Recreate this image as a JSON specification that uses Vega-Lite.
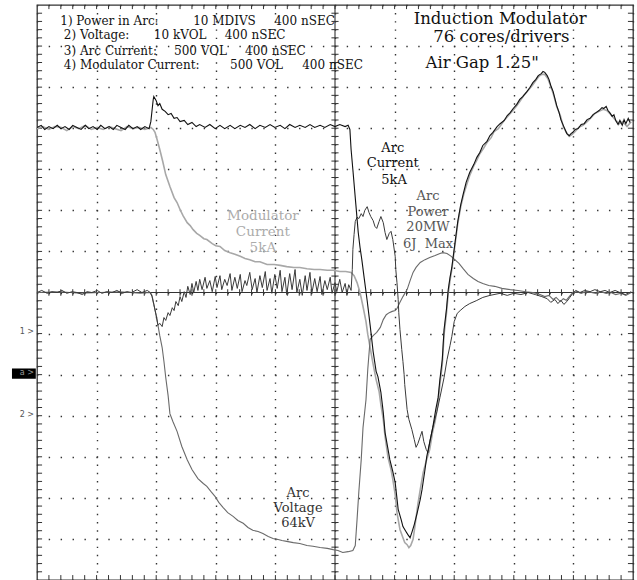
{
"$schema": "https://vega.github.io/schema/vega-lite/v6.json",
"width": 596, "height": 575,
"autosize": "none",
"padding": {"left": 37, "top": 5, "right": 4, "bottom": 0},
"background": "white",
"config": {
 "view": {"stroke": "#333", "strokeWidth": 1.3},
 "axis": {"domain": false, "ticks": false, "labels": false, "title": null},
 "axisX": {"grid": true, "tickCount": 10, "gridColor": "#333", "gridWidth": 1.4, "gridDash": [1.4, 6.81], "gridDashOffset": 0.7},
 "axisY": {"grid": true, "tickCount": 14, "gridColor": "#333", "gridWidth": 1.4, "gridDash": [1.4, 10.52], "gridDashOffset": 0.7}
},
"datasets": {
 "xt": [{"t":0.2},{"t":0.4},{"t":0.6},{"t":0.8},{"t":1},{"t":1.2},{"t":1.4},{"t":1.6},{"t":1.8},{"t":2},{"t":2.2},{"t":2.4},{"t":2.6},{"t":2.8},{"t":3},{"t":3.2},{"t":3.4},{"t":3.6},{"t":3.8},{"t":4},{"t":4.2},{"t":4.4},{"t":4.6},{"t":4.8},{"t":5},{"t":5.2},{"t":5.4},{"t":5.6},{"t":5.8},{"t":6},{"t":6.2},{"t":6.4},{"t":6.6},{"t":6.8},{"t":7},{"t":7.2},{"t":7.4},{"t":7.6},{"t":7.8},{"t":8},{"t":8.2},{"t":8.4},{"t":8.6},{"t":8.8},{"t":9},{"t":9.2},{"t":9.4},{"t":9.6},{"t":9.8}],
 "yt": [{"t":-6.8},{"t":-6.6},{"t":-6.4},{"t":-6.2},{"t":-6},{"t":-5.8},{"t":-5.6},{"t":-5.4},{"t":-5.2},{"t":-5},{"t":-4.8},{"t":-4.6},{"t":-4.4},{"t":-4.2},{"t":-4},{"t":-3.8},{"t":-3.6},{"t":-3.4},{"t":-3.2},{"t":-3},{"t":-2.8},{"t":-2.6},{"t":-2.4},{"t":-2.2},{"t":-2},{"t":-1.8},{"t":-1.6},{"t":-1.4},{"t":-1.2},{"t":-1},{"t":-0.8},{"t":-0.6},{"t":-0.4},{"t":-0.2},{"t":0},{"t":0.2},{"t":0.4},{"t":0.6},{"t":0.8},{"t":1},{"t":1.2},{"t":1.4},{"t":1.6},{"t":1.8},{"t":2},{"t":2.2},{"t":2.4},{"t":2.6},{"t":2.8},{"t":3},{"t":3.2},{"t":3.4},{"t":3.6},{"t":3.8},{"t":4},{"t":4.2},{"t":4.4},{"t":4.6},{"t":4.8},{"t":5},{"t":5.2},{"t":5.4},{"t":5.6},{"t":5.8},{"t":6},{"t":6.2},{"t":6.4},{"t":6.6},{"t":6.8}],
 "labels": [
  {"g":"leg","x":0.39,"y":6.62,"t":"1) Power in Arc:"},
  {"g":"leg","x":2.62,"y":6.62,"t":"10 MDIVS"},
  {"g":"leg","x":3.98,"y":6.62,"t":"400 nSEC"},
  {"g":"leg","x":0.45,"y":6.26,"t":"2) Voltage:"},
  {"g":"leg","x":1.96,"y":6.26,"t":"10 kVOL"},
  {"g":"leg","x":3.15,"y":6.26,"t":"400 nSEC"},
  {"g":"leg","x":0.45,"y":5.87,"t":"3) Arc Current:"},
  {"g":"leg","x":2.30,"y":5.87,"t":"500 VOL"},
  {"g":"leg","x":3.49,"y":5.87,"t":"400 nSEC"},
  {"g":"leg","x":0.45,"y":5.53,"t":"4) Modulator Current:"},
  {"g":"leg","x":3.24,"y":5.53,"t":"500 VOL"},
  {"g":"leg","x":4.45,"y":5.53,"t":"400 nSEC"},
  {"g":"title","x":7.77,"y":6.67,"t":"Induction Modulator"},
  {"g":"title","x":7.79,"y":6.23,"t":"76 cores/drivers"},
  {"g":"title","x":7.47,"y":5.60,"t":"Air Gap 1.25\""},
  {"g":"cur","x":5.97,"y":3.53,"t":"Arc"},
  {"g":"cur","x":5.97,"y":3.15,"t":"Current"},
  {"g":"cur","x":5.99,"y":2.75,"t":"5kA"},
  {"g":"pow","x":6.56,"y":2.34,"t":"Arc"},
  {"g":"pow","x":6.56,"y":1.96,"t":"Power"},
  {"g":"pow","x":6.56,"y":1.59,"t":"20MW"},
  {"g":"pow","x":6.56,"y":1.19,"t":"6J\u00a0\u00a0Max"},
  {"g":"mod","x":3.79,"y":1.86,"t":"Modulator"},
  {"g":"mod","x":3.79,"y":1.47,"t":"Current"},
  {"g":"mod","x":3.79,"y":1.09,"t":"5kA"},
  {"g":"vol","x":4.38,"y":-4.87,"t":"Arc"},
  {"g":"vol","x":4.38,"y":-5.24,"t":"Voltage"},
  {"g":"vol","x":4.38,"y":-5.61,"t":"64kV"},
  {"g":"mk","x":-0.05,"y":-0.97,"t":"1 >"},
  {"g":"mkb","x":-0.05,"y":-1.97,"t":"a >"},
  {"g":"mk","x":-0.05,"y":-2.99,"t":"2 >"}
 ],
 "traces": [
  {"s":"T3","x":0,"y":4.02},{"s":"T3","x":0.07,"y":4.07},{"s":"T3","x":0.13,"y":3.97},{"s":"T3","x":0.2,"y":4.04},{"s":"T3","x":0.27,"y":3.99},{"s":"T3","x":0.34,"y":4.07},{"s":"T3","x":0.4,"y":3.99},{"s":"T3","x":0.47,"y":4.04},{"s":"T3","x":0.54,"y":3.97},{"s":"T3","x":0.6,"y":4.07},{"s":"T3","x":0.67,"y":4.02},{"s":"T3","x":0.74,"y":3.97},{"s":"T3","x":0.81,"y":4.07},{"s":"T3","x":0.87,"y":3.99},{"s":"T3","x":0.94,"y":4.04},{"s":"T3","x":1.01,"y":3.97},{"s":"T3","x":1.07,"y":4.07},{"s":"T3","x":1.14,"y":3.99},{"s":"T3","x":1.21,"y":4.04},{"s":"T3","x":1.28,"y":3.97},{"s":"T3","x":1.34,"y":4.07},{"s":"T3","x":1.41,"y":4.02},{"s":"T3","x":1.48,"y":3.97},{"s":"T3","x":1.54,"y":4.07},{"s":"T3","x":1.61,"y":3.99},{"s":"T3","x":1.68,"y":4.04},{"s":"T3","x":1.74,"y":3.97},{"s":"T3","x":1.81,"y":4.04},{"s":"T3","x":1.88,"y":3.99},
  {"s":"T3","x":1.91,"y":4.16},{"s":"T3","x":1.95,"y":4.7},{"s":"T3","x":1.96,"y":4.77},{"s":"T3","x":2.0,"y":4.67},{"s":"T3","x":2.03,"y":4.55},{"s":"T3","x":2.06,"y":4.6},{"s":"T3","x":2.1,"y":4.46},{"s":"T3","x":2.15,"y":4.41},{"s":"T3","x":2.2,"y":4.33},{"s":"T3","x":2.25,"y":4.36},{"s":"T3","x":2.3,"y":4.24},{"s":"T3","x":2.35,"y":4.26},{"s":"T3","x":2.4,"y":4.16},{"s":"T3","x":2.47,"y":4.19},{"s":"T3","x":2.53,"y":4.09},{"s":"T3","x":2.6,"y":4.14},{"s":"T3","x":2.67,"y":4.04},{"s":"T3","x":2.73,"y":4.09},{"s":"T3","x":2.82,"y":4.02},{"s":"T3","x":2.9,"y":4.09},{"s":"T3","x":2.99,"y":3.99},{"s":"T3","x":3.07,"y":4.07},{"s":"T3","x":3.15,"y":3.99},{"s":"T3","x":3.24,"y":4.07},{"s":"T3","x":3.32,"y":3.99},{"s":"T3","x":3.41,"y":4.07},{"s":"T3","x":3.49,"y":4.02},{"s":"T3","x":3.57,"y":4.09},{"s":"T3","x":3.66,"y":3.99},{"s":"T3","x":3.74,"y":4.07},{"s":"T3","x":3.83,"y":4.02},{"s":"T3","x":3.91,"y":4.09},{"s":"T3","x":3.99,"y":4.02},{"s":"T3","x":4.08,"y":4.07},{"s":"T3","x":4.16,"y":3.99},{"s":"T3","x":4.24,"y":4.09},{"s":"T3","x":4.33,"y":4.02},{"s":"T3","x":4.41,"y":4.07},{"s":"T3","x":4.5,"y":4.02},{"s":"T3","x":4.58,"y":4.09},{"s":"T3","x":4.66,"y":4.02},{"s":"T3","x":4.75,"y":4.07},{"s":"T3","x":4.83,"y":4.02},{"s":"T3","x":4.92,"y":4.09},{"s":"T3","x":5.0,"y":4.04},{"s":"T3","x":5.08,"y":4.09},{"s":"T3","x":5.17,"y":4.04},{"s":"T3","x":5.22,"y":4.07},{"s":"T3","x":5.25,"y":3.97},{"s":"T3","x":5.27,"y":3.48},{"s":"T3","x":5.3,"y":2.99},{"s":"T3","x":5.35,"y":2.14},{"s":"T3","x":5.39,"y":1.46},{"s":"T3","x":5.42,"y":1.1},{"s":"T3","x":5.45,"y":0.8},{"s":"T3","x":5.49,"y":0.35},{"s":"T3","x":5.54,"y":-0.2},{"s":"T3","x":5.59,"y":-0.8},{"s":"T3","x":5.64,"y":-1.44},{"s":"T3","x":5.69,"y":-1.92},{"s":"T3","x":5.72,"y":-2.05},{"s":"T3","x":5.77,"y":-2.43},{"s":"T3","x":5.81,"y":-2.92},{"s":"T3","x":5.84,"y":-3.41},{"s":"T3","x":5.89,"y":-3.82},{"s":"T3","x":5.92,"y":-4.07},{"s":"T3","x":5.97,"y":-4.36},{"s":"T3","x":6.01,"y":-4.63},{"s":"T3","x":6.06,"y":-5.28},{"s":"T3","x":6.11,"y":-5.53},{"s":"T3","x":6.14,"y":-5.7},{"s":"T3","x":6.19,"y":-5.82},{"s":"T3","x":6.22,"y":-5.89},{"s":"T3","x":6.26,"y":-5.97},{"s":"T3","x":6.29,"y":-5.84},{"s":"T3","x":6.33,"y":-5.65},{"s":"T3","x":6.38,"y":-5.36},{"s":"T3","x":6.43,"y":-5.04},{"s":"T3","x":6.46,"y":-4.8},{"s":"T3","x":6.51,"y":-4.31},{"s":"T3","x":6.54,"y":-3.99},{"s":"T3","x":6.59,"y":-3.65},{"s":"T3","x":6.64,"y":-3.29},{"s":"T3","x":6.69,"y":-2.85},{"s":"T3","x":6.73,"y":-2.56},{"s":"T3","x":6.76,"y":-2.12},{"s":"T3","x":6.8,"y":-1.63},{"s":"T3","x":6.83,"y":-0.9},{"s":"T3","x":6.87,"y":-0.41},{"s":"T3","x":6.9,"y":0.07},{"s":"T3","x":6.93,"y":0.37},{"s":"T3","x":6.96,"y":0.61},{"s":"T3","x":7.01,"y":1.17},{"s":"T3","x":7.06,"y":1.73},{"s":"T3","x":7.11,"y":2.14},{"s":"T3","x":7.15,"y":2.39},{"s":"T3","x":7.2,"y":2.68},{"s":"T3","x":7.26,"y":2.92},{"s":"T3","x":7.33,"y":3.12},{"s":"T3","x":7.38,"y":3.29},{"s":"T3","x":7.43,"y":3.41},{"s":"T3","x":7.48,"y":3.58},{"s":"T3","x":7.55,"y":3.68},{"s":"T3","x":7.6,"y":3.82},{"s":"T3","x":7.65,"y":3.9},{"s":"T3","x":7.72,"y":4.04},{"s":"T3","x":7.77,"y":4.11},{"s":"T3","x":7.84,"y":4.19},{"s":"T3","x":7.89,"y":4.31},{"s":"T3","x":7.94,"y":4.38},{"s":"T3","x":7.99,"y":4.48},{"s":"T3","x":8.05,"y":4.58},{"s":"T3","x":8.1,"y":4.7},{"s":"T3","x":8.15,"y":4.77},{"s":"T3","x":8.22,"y":4.89},{"s":"T3","x":8.27,"y":4.99},{"s":"T3","x":8.32,"y":5.11},{"s":"T3","x":8.37,"y":5.19},{"s":"T3","x":8.41,"y":5.28},{"s":"T3","x":8.46,"y":5.33},{"s":"T3","x":8.49,"y":5.38},{"s":"T3","x":8.52,"y":5.36},{"s":"T3","x":8.56,"y":5.28},{"s":"T3","x":8.59,"y":5.19},{"s":"T3","x":8.62,"y":5.04},{"s":"T3","x":8.66,"y":4.89},{"s":"T3","x":8.69,"y":4.72},{"s":"T3","x":8.72,"y":4.55},{"s":"T3","x":8.76,"y":4.38},{"s":"T3","x":8.79,"y":4.21},{"s":"T3","x":8.83,"y":4.07},{"s":"T3","x":8.86,"y":3.97},{"s":"T3","x":8.89,"y":3.87},{"s":"T3","x":8.93,"y":3.82},{"s":"T3","x":8.96,"y":3.87},{"s":"T3","x":8.99,"y":3.9},{"s":"T3","x":9.03,"y":3.97},{"s":"T3","x":9.08,"y":3.99},{"s":"T3","x":9.13,"y":4.09},{"s":"T3","x":9.18,"y":4.11},{"s":"T3","x":9.23,"y":4.21},{"s":"T3","x":9.28,"y":4.24},{"s":"T3","x":9.33,"y":4.33},{"s":"T3","x":9.38,"y":4.38},{"s":"T3","x":9.43,"y":4.43},{"s":"T3","x":9.48,"y":4.5},{"s":"T3","x":9.51,"y":4.48},{"s":"T3","x":9.55,"y":4.53},{"s":"T3","x":9.58,"y":4.43},{"s":"T3","x":9.61,"y":4.38},{"s":"T3","x":9.65,"y":4.29},{"s":"T3","x":9.68,"y":4.33},{"s":"T3","x":9.71,"y":4.19},{"s":"T3","x":9.75,"y":4.09},{"s":"T3","x":9.78,"y":4.19},{"s":"T3","x":9.82,"y":4.07},{"s":"T3","x":9.85,"y":4.21},{"s":"T3","x":9.88,"y":4.11},{"s":"T3","x":9.92,"y":4.24},{"s":"T3","x":9.95,"y":4.14},

  {"s":"T4","x":0,"y":3.99},{"s":"T4","x":0.1,"y":4.04},{"s":"T4","x":0.2,"y":3.97},{"s":"T4","x":0.3,"y":4.04},{"s":"T4","x":0.4,"y":4.02},{"s":"T4","x":0.5,"y":3.94},{"s":"T4","x":0.6,"y":4.04},{"s":"T4","x":0.7,"y":3.99},{"s":"T4","x":0.81,"y":4.07},{"s":"T4","x":0.91,"y":3.97},{"s":"T4","x":1.01,"y":4.02},{"s":"T4","x":1.11,"y":3.97},{"s":"T4","x":1.21,"y":4.04},{"s":"T4","x":1.31,"y":3.99},{"s":"T4","x":1.41,"y":3.94},{"s":"T4","x":1.51,"y":4.04},{"s":"T4","x":1.61,"y":3.99},{"s":"T4","x":1.71,"y":4.02},{"s":"T4","x":1.81,"y":3.97},{"s":"T4","x":1.91,"y":4.02},
  {"s":"T4","x":1.95,"y":3.97},{"s":"T4","x":1.98,"y":3.9},{"s":"T4","x":2.01,"y":3.75},{"s":"T4","x":2.06,"y":3.48},{"s":"T4","x":2.11,"y":3.19},{"s":"T4","x":2.16,"y":2.87},{"s":"T4","x":2.23,"y":2.58},{"s":"T4","x":2.3,"y":2.31},{"s":"T4","x":2.35,"y":2.19},{"s":"T4","x":2.4,"y":2.02},{"s":"T4","x":2.45,"y":1.87},{"s":"T4","x":2.52,"y":1.7},{"s":"T4","x":2.57,"y":1.63},{"s":"T4","x":2.62,"y":1.53},{"s":"T4","x":2.68,"y":1.44},{"s":"T4","x":2.73,"y":1.39},{"s":"T4","x":2.8,"y":1.31},{"s":"T4","x":2.85,"y":1.29},{"s":"T4","x":2.94,"y":1.19},{"s":"T4","x":3.0,"y":1.14},{"s":"T4","x":3.07,"y":1.12},{"s":"T4","x":3.15,"y":1.02},{"s":"T4","x":3.24,"y":0.97},{"s":"T4","x":3.32,"y":0.93},{"s":"T4","x":3.41,"y":0.88},{"s":"T4","x":3.49,"y":0.83},{"s":"T4","x":3.57,"y":0.8},{"s":"T4","x":3.66,"y":0.75},{"s":"T4","x":3.74,"y":0.75},{"s":"T4","x":3.86,"y":0.68},{"s":"T4","x":3.98,"y":0.68},{"s":"T4","x":4.08,"y":0.66},{"s":"T4","x":4.19,"y":0.63},{"s":"T4","x":4.31,"y":0.61},{"s":"T4","x":4.41,"y":0.61},{"s":"T4","x":4.53,"y":0.58},{"s":"T4","x":4.65,"y":0.56},{"s":"T4","x":4.75,"y":0.56},{"s":"T4","x":4.87,"y":0.54},{"s":"T4","x":4.97,"y":0.54},{"s":"T4","x":5.08,"y":0.51},{"s":"T4","x":5.18,"y":0.51},{"s":"T4","x":5.27,"y":0.49},{"s":"T4","x":5.32,"y":0.41},{"s":"T4","x":5.37,"y":0.24},{"s":"T4","x":5.42,"y":0},{"s":"T4","x":5.47,"y":-0.34},{"s":"T4","x":5.52,"y":-0.71},{"s":"T4","x":5.55,"y":-1.02},{"s":"T4","x":5.59,"y":-1.34},{"s":"T4","x":5.64,"y":-1.75},{"s":"T4","x":5.69,"y":-2.12},{"s":"T4","x":5.74,"y":-2.41},{"s":"T4","x":5.77,"y":-2.73},{"s":"T4","x":5.81,"y":-3.09},{"s":"T4","x":5.84,"y":-3.51},{"s":"T4","x":5.89,"y":-4.02},{"s":"T4","x":5.94,"y":-4.31},{"s":"T4","x":5.97,"y":-4.55},{"s":"T4","x":6.01,"y":-4.92},{"s":"T4","x":6.04,"y":-5.36},{"s":"T4","x":6.09,"y":-5.77},{"s":"T4","x":6.14,"y":-5.97},{"s":"T4","x":6.17,"y":-6.09},{"s":"T4","x":6.21,"y":-6.14},{"s":"T4","x":6.24,"y":-6.21},{"s":"T4","x":6.27,"y":-6.16},{"s":"T4","x":6.31,"y":-6.01},{"s":"T4","x":6.34,"y":-5.7},{"s":"T4","x":6.39,"y":-5.16},{"s":"T4","x":6.43,"y":-4.8},{"s":"T4","x":6.48,"y":-4.38},{"s":"T4","x":6.53,"y":-4.11},{"s":"T4","x":6.59,"y":-3.82},{"s":"T4","x":6.64,"y":-3.38},{"s":"T4","x":6.68,"y":-3.14},{"s":"T4","x":6.73,"y":-2.68},{"s":"T4","x":6.76,"y":-2.24},{"s":"T4","x":6.8,"y":-1.75},{"s":"T4","x":6.83,"y":-1.02},{"s":"T4","x":6.87,"y":-0.51},{"s":"T4","x":6.9,"y":-0.02},{"s":"T4","x":6.93,"y":0.29},{"s":"T4","x":6.96,"y":0.56},{"s":"T4","x":7.01,"y":1.12},{"s":"T4","x":7.06,"y":1.68},{"s":"T4","x":7.11,"y":2.09},{"s":"T4","x":7.16,"y":2.39},{"s":"T4","x":7.21,"y":2.63},{"s":"T4","x":7.26,"y":2.85},{"s":"T4","x":7.33,"y":3.09},{"s":"T4","x":7.38,"y":3.22},{"s":"T4","x":7.43,"y":3.38},{"s":"T4","x":7.5,"y":3.53},{"s":"T4","x":7.55,"y":3.65},{"s":"T4","x":7.62,"y":3.77},{"s":"T4","x":7.67,"y":3.92},{"s":"T4","x":7.74,"y":3.99},{"s":"T4","x":7.79,"y":4.09},{"s":"T4","x":7.85,"y":4.21},{"s":"T4","x":7.9,"y":4.29},{"s":"T4","x":7.97,"y":4.41},{"s":"T4","x":8.04,"y":4.53},{"s":"T4","x":8.1,"y":4.65},{"s":"T4","x":8.17,"y":4.8},{"s":"T4","x":8.24,"y":4.92},{"s":"T4","x":8.31,"y":5.04},{"s":"T4","x":8.37,"y":5.16},{"s":"T4","x":8.42,"y":5.26},{"s":"T4","x":8.47,"y":5.31},{"s":"T4","x":8.52,"y":5.31},{"s":"T4","x":8.57,"y":5.21},{"s":"T4","x":8.62,"y":5.02},{"s":"T4","x":8.67,"y":4.8},{"s":"T4","x":8.72,"y":4.53},{"s":"T4","x":8.78,"y":4.31},{"s":"T4","x":8.83,"y":4.04},{"s":"T4","x":8.88,"y":3.9},{"s":"T4","x":8.93,"y":3.8},{"s":"T4","x":8.98,"y":3.85},{"s":"T4","x":9.03,"y":3.92},{"s":"T4","x":9.09,"y":4.02},{"s":"T4","x":9.16,"y":4.07},{"s":"T4","x":9.23,"y":4.16},{"s":"T4","x":9.3,"y":4.26},{"s":"T4","x":9.36,"y":4.36},{"s":"T4","x":9.43,"y":4.41},{"s":"T4","x":9.5,"y":4.46},{"s":"T4","x":9.56,"y":4.43},{"s":"T4","x":9.63,"y":4.33},{"s":"T4","x":9.7,"y":4.21},{"s":"T4","x":9.77,"y":4.11},{"s":"T4","x":9.83,"y":4.16},{"s":"T4","x":9.9,"y":4.04},{"s":"T4","x":9.97,"y":4.16},

  {"s":"T2","x":0,"y":0},{"s":"T2","x":0.39,"y":0.02},{"s":"T2","x":0.72,"y":-0.02},{"s":"T2","x":1.06,"y":0},{"s":"T2","x":1.39,"y":0.02},{"s":"T2","x":1.73,"y":-0.02},{"s":"T2","x":1.9,"y":0},
  {"s":"T2","x":1.93,"y":-0.07},{"s":"T2","x":1.96,"y":-0.29},{"s":"T2","x":2.0,"y":-0.56},{"s":"T2","x":2.03,"y":-0.8},{"s":"T2","x":2.06,"y":-1.05},{"s":"T2","x":2.1,"y":-1.34},{"s":"T2","x":2.13,"y":-1.68},{"s":"T2","x":2.16,"y":-2.07},{"s":"T2","x":2.2,"y":-2.51},{"s":"T2","x":2.23,"y":-2.95},{"s":"T2","x":2.28,"y":-3.14},{"s":"T2","x":2.35,"y":-3.38},{"s":"T2","x":2.43,"y":-3.75},{"s":"T2","x":2.52,"y":-4.07},{"s":"T2","x":2.6,"y":-4.31},{"s":"T2","x":2.7,"y":-4.53},{"s":"T2","x":2.79,"y":-4.65},{"s":"T2","x":2.85,"y":-4.72},{"s":"T2","x":2.92,"y":-4.85},{"s":"T2","x":2.99,"y":-4.97},{"s":"T2","x":3.05,"y":-5.11},{"s":"T2","x":3.12,"y":-5.23},{"s":"T2","x":3.2,"y":-5.36},{"s":"T2","x":3.29,"y":-5.45},{"s":"T2","x":3.37,"y":-5.55},{"s":"T2","x":3.46,"y":-5.62},{"s":"T2","x":3.54,"y":-5.72},{"s":"T2","x":3.62,"y":-5.79},{"s":"T2","x":3.71,"y":-5.82},{"s":"T2","x":3.79,"y":-5.87},{"s":"T2","x":3.88,"y":-5.94},{"s":"T2","x":3.96,"y":-5.99},{"s":"T2","x":4.03,"y":-6.01},{"s":"T2","x":4.11,"y":-6.04},{"s":"T2","x":4.19,"y":-6.06},{"s":"T2","x":4.3,"y":-6.09},{"s":"T2","x":4.41,"y":-6.11},{"s":"T2","x":4.53,"y":-6.16},{"s":"T2","x":4.63,"y":-6.18},{"s":"T2","x":4.75,"y":-6.21},{"s":"T2","x":4.87,"y":-6.23},{"s":"T2","x":4.97,"y":-6.26},{"s":"T2","x":5.05,"y":-6.28},{"s":"T2","x":5.13,"y":-6.33},{"s":"T2","x":5.22,"y":-6.31},{"s":"T2","x":5.3,"y":-6.28},{"s":"T2","x":5.34,"y":-6.16},{"s":"T2","x":5.37,"y":-5.53},{"s":"T2","x":5.4,"y":-4.85},{"s":"T2","x":5.44,"y":-4.07},{"s":"T2","x":5.47,"y":-3.29},{"s":"T2","x":5.52,"y":-2.61},{"s":"T2","x":5.55,"y":-1.87},{"s":"T2","x":5.59,"y":-1.14},{"s":"T2","x":5.64,"y":-1.05},{"s":"T2","x":5.7,"y":-0.97},{"s":"T2","x":5.76,"y":-0.85},{"s":"T2","x":5.81,"y":-0.66},{"s":"T2","x":5.86,"y":-0.54},{"s":"T2","x":5.91,"y":-0.49},{"s":"T2","x":5.96,"y":-0.46},{"s":"T2","x":6.01,"y":-0.44},{"s":"T2","x":6.04,"y":-0.39},{"s":"T2","x":6.09,"y":-0.24},{"s":"T2","x":6.14,"y":-0.1},{"s":"T2","x":6.21,"y":0.07},{"s":"T2","x":6.26,"y":0.29},{"s":"T2","x":6.31,"y":0.49},{"s":"T2","x":6.36,"y":0.61},{"s":"T2","x":6.43,"y":0.73},{"s":"T2","x":6.51,"y":0.8},{"s":"T2","x":6.59,"y":0.85},{"s":"T2","x":6.68,"y":0.9},{"s":"T2","x":6.76,"y":0.95},{"s":"T2","x":6.81,"y":0.97},{"s":"T2","x":6.88,"y":0.95},{"s":"T2","x":6.95,"y":0.88},{"s":"T2","x":7.01,"y":0.8},{"s":"T2","x":7.08,"y":0.71},{"s":"T2","x":7.15,"y":0.58},{"s":"T2","x":7.23,"y":0.44},{"s":"T2","x":7.32,"y":0.34},{"s":"T2","x":7.4,"y":0.27},{"s":"T2","x":7.48,"y":0.22},{"s":"T2","x":7.58,"y":0.17},{"s":"T2","x":7.68,"y":0.15},{"s":"T2","x":7.8,"y":0.1},{"s":"T2","x":7.94,"y":0.07},{"s":"T2","x":8.07,"y":0.05},{"s":"T2","x":8.2,"y":0.02},{"s":"T2","x":8.32,"y":0},{"s":"T2","x":8.44,"y":-0.05},{"s":"T2","x":8.52,"y":-0.1},{"s":"T2","x":8.59,"y":-0.07},{"s":"T2","x":8.66,"y":-0.17},{"s":"T2","x":8.71,"y":-0.12},{"s":"T2","x":8.78,"y":-0.22},{"s":"T2","x":8.83,"y":-0.15},{"s":"T2","x":8.88,"y":-0.19},{"s":"T2","x":8.93,"y":-0.1},{"s":"T2","x":8.99,"y":0},{"s":"T2","x":9.06,"y":0.02},{"s":"T2","x":9.13,"y":-0.02},{"s":"T2","x":9.21,"y":0.02},{"s":"T2","x":9.3,"y":0},{"s":"T2","x":9.38,"y":-0.02},{"s":"T2","x":9.46,"y":0.02},{"s":"T2","x":9.55,"y":-0.02},{"s":"T2","x":9.63,"y":0},{"s":"T2","x":9.71,"y":-0.05},{"s":"T2","x":9.8,"y":-0.02},{"s":"T2","x":9.88,"y":-0.07},{"s":"T2","x":9.97,"y":0},

  {"s":"T1","x":0,"y":0},{"s":"T1","x":0.08,"y":0.05},{"s":"T1","x":0.17,"y":-0.02},{"s":"T1","x":0.25,"y":0.02},{"s":"T1","x":0.34,"y":0},{"s":"T1","x":0.42,"y":0.05},{"s":"T1","x":0.5,"y":-0.02},{"s":"T1","x":0.59,"y":0.02},{"s":"T1","x":0.67,"y":0},{"s":"T1","x":0.76,"y":-0.05},{"s":"T1","x":0.84,"y":0.02},{"s":"T1","x":0.92,"y":0},{"s":"T1","x":1.01,"y":0.05},{"s":"T1","x":1.09,"y":-0.02},{"s":"T1","x":1.17,"y":0.02},{"s":"T1","x":1.26,"y":0},{"s":"T1","x":1.34,"y":0.05},{"s":"T1","x":1.43,"y":-0.02},{"s":"T1","x":1.51,"y":0.02},{"s":"T1","x":1.59,"y":0},{"s":"T1","x":1.68,"y":0.07},{"s":"T1","x":1.76,"y":0},{"s":"T1","x":1.85,"y":0.05},{"s":"T1","x":1.9,"y":0},
  {"s":"T1","x":1.93,"y":-0.1},{"s":"T1","x":1.96,"y":-0.29},{"s":"T1","x":2.0,"y":-0.56},{"s":"T1","x":2.03,"y":-0.8},{"s":"T1","x":2.06,"y":-0.75},{"s":"T1","x":2.1,"y":-0.83},{"s":"T1","x":2.13,"y":-0.61},{"s":"T1","x":2.16,"y":-0.68},{"s":"T1","x":2.2,"y":-0.49},{"s":"T1","x":2.23,"y":-0.56},{"s":"T1","x":2.27,"y":-0.37},{"s":"T1","x":2.3,"y":-0.44},{"s":"T1","x":2.33,"y":-0.22},{"s":"T1","x":2.37,"y":-0.32},{"s":"T1","x":2.4,"y":-0.1},{"s":"T1","x":2.43,"y":-0.22},{"s":"T1","x":2.47,"y":0.02},{"s":"T1","x":2.5,"y":-0.12},{"s":"T1","x":2.53,"y":0.15},{"s":"T1","x":2.57,"y":-0.05},{"s":"T1","x":2.6,"y":0.22},{"s":"T1","x":2.63,"y":0},{"s":"T1","x":2.67,"y":0.27},{"s":"T1","x":2.7,"y":0.05},{"s":"T1","x":2.73,"y":0.32},{"s":"T1","x":2.77,"y":0.07},{"s":"T1","x":2.82,"y":0.37},{"s":"T1","x":2.85,"y":0.1},{"s":"T1","x":2.9,"y":0.29},{"s":"T1","x":2.94,"y":0.02},{"s":"T1","x":2.99,"y":0.39},{"s":"T1","x":3.02,"y":0.12},{"s":"T1","x":3.07,"y":0.41},{"s":"T1","x":3.1,"y":0.07},{"s":"T1","x":3.15,"y":0.32},{"s":"T1","x":3.19,"y":0.17},{"s":"T1","x":3.24,"y":0.46},{"s":"T1","x":3.27,"y":0.05},{"s":"T1","x":3.32,"y":0.37},{"s":"T1","x":3.36,"y":0.1},{"s":"T1","x":3.41,"y":0.44},{"s":"T1","x":3.44,"y":0.02},{"s":"T1","x":3.49,"y":0.29},{"s":"T1","x":3.52,"y":0.17},{"s":"T1","x":3.57,"y":0.49},{"s":"T1","x":3.61,"y":0.07},{"s":"T1","x":3.66,"y":0.34},{"s":"T1","x":3.69,"y":0},{"s":"T1","x":3.74,"y":0.41},{"s":"T1","x":3.78,"y":0.12},{"s":"T1","x":3.83,"y":0.51},{"s":"T1","x":3.86,"y":0.05},{"s":"T1","x":3.91,"y":0.34},{"s":"T1","x":3.94,"y":-0.02},{"s":"T1","x":3.99,"y":0.44},{"s":"T1","x":4.03,"y":0.1},{"s":"T1","x":4.08,"y":0.54},{"s":"T1","x":4.11,"y":0.02},{"s":"T1","x":4.16,"y":0.37},{"s":"T1","x":4.19,"y":-0.05},{"s":"T1","x":4.24,"y":0.46},{"s":"T1","x":4.28,"y":0.07},{"s":"T1","x":4.33,"y":0.56},{"s":"T1","x":4.36,"y":0},{"s":"T1","x":4.41,"y":0.32},{"s":"T1","x":4.45,"y":-0.07},{"s":"T1","x":4.5,"y":0.41},{"s":"T1","x":4.53,"y":0.05},{"s":"T1","x":4.58,"y":0.49},{"s":"T1","x":4.61,"y":-0.02},{"s":"T1","x":4.66,"y":0.34},{"s":"T1","x":4.7,"y":0.02},{"s":"T1","x":4.75,"y":0.39},{"s":"T1","x":4.78,"y":-0.05},{"s":"T1","x":4.83,"y":0.29},{"s":"T1","x":4.87,"y":0.07},{"s":"T1","x":4.92,"y":0.37},{"s":"T1","x":4.95,"y":-0.02},{"s":"T1","x":5.0,"y":0.24},{"s":"T1","x":5.03,"y":0.02},{"s":"T1","x":5.08,"y":0.32},{"s":"T1","x":5.12,"y":0},{"s":"T1","x":5.17,"y":0.22},{"s":"T1","x":5.2,"y":-0.05},{"s":"T1","x":5.23,"y":0.19},{"s":"T1","x":5.27,"y":0.05},{"s":"T1","x":5.29,"y":0.56},{"s":"T1","x":5.3,"y":1.05},{"s":"T1","x":5.32,"y":1.41},{"s":"T1","x":5.34,"y":1.73},{"s":"T1","x":5.37,"y":1.83},{"s":"T1","x":5.4,"y":1.8},{"s":"T1","x":5.44,"y":1.92},{"s":"T1","x":5.47,"y":1.85},{"s":"T1","x":5.5,"y":2.0},{"s":"T1","x":5.54,"y":2.09},{"s":"T1","x":5.57,"y":1.95},{"s":"T1","x":5.6,"y":1.85},{"s":"T1","x":5.64,"y":1.75},{"s":"T1","x":5.67,"y":1.61},{"s":"T1","x":5.7,"y":1.56},{"s":"T1","x":5.74,"y":1.73},{"s":"T1","x":5.77,"y":1.85},{"s":"T1","x":5.81,"y":1.7},{"s":"T1","x":5.84,"y":1.46},{"s":"T1","x":5.87,"y":1.29},{"s":"T1","x":5.91,"y":1.44},{"s":"T1","x":5.94,"y":1.49},{"s":"T1","x":5.97,"y":1.29},{"s":"T1","x":6.01,"y":0.88},{"s":"T1","x":6.02,"y":0.56},{"s":"T1","x":6.04,"y":0.24},{"s":"T1","x":6.06,"y":-0.17},{"s":"T1","x":6.07,"y":-0.49},{"s":"T1","x":6.09,"y":-0.9},{"s":"T1","x":6.12,"y":-1.39},{"s":"T1","x":6.14,"y":-1.68},{"s":"T1","x":6.16,"y":-2.0},{"s":"T1","x":6.17,"y":-2.24},{"s":"T1","x":6.21,"y":-2.85},{"s":"T1","x":6.24,"y":-3.09},{"s":"T1","x":6.29,"y":-3.34},{"s":"T1","x":6.33,"y":-3.58},{"s":"T1","x":6.36,"y":-3.77},{"s":"T1","x":6.39,"y":-3.68},{"s":"T1","x":6.43,"y":-3.51},{"s":"T1","x":6.46,"y":-3.38},{"s":"T1","x":6.49,"y":-3.63},{"s":"T1","x":6.53,"y":-3.82},{"s":"T1","x":6.56,"y":-3.9},{"s":"T1","x":6.59,"y":-3.63},{"s":"T1","x":6.64,"y":-3.29},{"s":"T1","x":6.71,"y":-2.9},{"s":"T1","x":6.76,"y":-2.56},{"s":"T1","x":6.83,"y":-2.07},{"s":"T1","x":6.88,"y":-1.63},{"s":"T1","x":6.93,"y":-1.29},{"s":"T1","x":6.96,"y":-1.07},{"s":"T1","x":7.0,"y":-0.71},{"s":"T1","x":7.05,"y":-0.51},{"s":"T1","x":7.1,"y":-0.44},{"s":"T1","x":7.18,"y":-0.34},{"s":"T1","x":7.26,"y":-0.27},{"s":"T1","x":7.37,"y":-0.2},{"s":"T1","x":7.48,"y":-0.12},{"s":"T1","x":7.6,"y":-0.07},{"s":"T1","x":7.77,"y":-0.02},{"s":"T1","x":7.89,"y":-0.07},{"s":"T1","x":8.0,"y":-0.02},{"s":"T1","x":8.12,"y":-0.05},{"s":"T1","x":8.24,"y":0},{"s":"T1","x":8.36,"y":-0.05},{"s":"T1","x":8.47,"y":-0.1},{"s":"T1","x":8.56,"y":-0.15},{"s":"T1","x":8.62,"y":-0.24},{"s":"T1","x":8.69,"y":-0.17},{"s":"T1","x":8.74,"y":-0.27},{"s":"T1","x":8.79,"y":-0.19},{"s":"T1","x":8.84,"y":-0.29},{"s":"T1","x":8.89,"y":-0.22},{"s":"T1","x":8.94,"y":-0.12},{"s":"T1","x":8.99,"y":-0.02},{"s":"T1","x":9.04,"y":0.05},{"s":"T1","x":9.11,"y":0},{"s":"T1","x":9.19,"y":0.05},{"s":"T1","x":9.28,"y":0.02},{"s":"T1","x":9.36,"y":0.07},{"s":"T1","x":9.45,"y":0.02},{"s":"T1","x":9.53,"y":0.05},{"s":"T1","x":9.61,"y":0},{"s":"T1","x":9.7,"y":0.05},{"s":"T1","x":9.78,"y":0},{"s":"T1","x":9.87,"y":-0.05},{"s":"T1","x":9.97,"y":0.02}
 ]
},
"layer": [
 {"data": {"name": "xt"}, "mark": {"type": "rule", "color": "#333", "strokeWidth": 1},
  "encoding": {"x": {"field": "t", "type": "quantitative", "scale": {"domain": [0, 10], "nice": false, "zero": false}},
   "y": {"datum": -0.08, "scale": {"domain": [-7, 7], "nice": false, "zero": false}}, "y2": {"datum": 0.08}}},
 {"data": {"name": "xt"}, "mark": {"type": "rule", "color": "#333", "strokeWidth": 1},
  "encoding": {"x": {"field": "t", "type": "quantitative", "scale": {"domain": [0, 10], "nice": false, "zero": false}},
   "y": {"datum": -7, "scale": {"domain": [-7, 7], "nice": false, "zero": false}}, "y2": {"datum": -6.88}}},
 {"data": {"name": "xt"}, "mark": {"type": "rule", "color": "#333", "strokeWidth": 1},
  "encoding": {"x": {"field": "t", "type": "quantitative", "scale": {"domain": [0, 10], "nice": false, "zero": false}},
   "y": {"datum": 7, "scale": {"domain": [-7, 7], "nice": false, "zero": false}}, "y2": {"datum": 6.9}}},
 {"data": {"name": "yt"}, "mark": {"type": "rule", "color": "#333", "strokeWidth": 1},
  "encoding": {"y": {"field": "t", "type": "quantitative", "scale": {"domain": [-7, 7], "nice": false, "zero": false}},
   "x": {"datum": 4.94, "scale": {"domain": [0, 10], "nice": false, "zero": false}}, "x2": {"datum": 5.06}}},
 {"data": {"name": "yt"}, "mark": {"type": "rule", "color": "#333", "strokeWidth": 1},
  "encoding": {"y": {"field": "t", "type": "quantitative", "scale": {"domain": [-7, 7], "nice": false, "zero": false}},
   "x": {"datum": 0, "scale": {"domain": [0, 10], "nice": false, "zero": false}}, "x2": {"datum": 0.085}}},
 {"data": {"name": "yt"}, "mark": {"type": "rule", "color": "#333", "strokeWidth": 1},
  "encoding": {"y": {"field": "t", "type": "quantitative", "scale": {"domain": [-7, 7], "nice": false, "zero": false}},
   "x": {"datum": 9.915, "scale": {"domain": [0, 10], "nice": false, "zero": false}}, "x2": {"datum": 10}}},
 {"data": {"values": [{}]}, "mark": {"type": "rule", "color": "#333", "strokeWidth": 1.1},
  "encoding": {"x": {"datum": 5, "scale": {"domain": [0, 10], "nice": false, "zero": false}}}},
 {"data": {"values": [{}]}, "mark": {"type": "rule", "color": "#333", "strokeWidth": 1.1},
  "encoding": {"y": {"datum": 0, "scale": {"domain": [-7, 7], "nice": false, "zero": false}}}},
 {"data": {"name": "traces"}, "transform": [{"filter": "datum.s == 'T4'"}],
  "mark": {"type": "line", "color": "#a8a8a8", "strokeWidth": 1.6},
  "encoding": {"x": {"field": "x", "type": "quantitative", "scale": {"domain": [0, 10], "nice": false, "zero": false}},
   "y": {"field": "y", "type": "quantitative", "scale": {"domain": [-7, 7], "nice": false, "zero": false}}}},
 {"data": {"name": "traces"}, "transform": [{"filter": "datum.s == 'T2'"}],
  "mark": {"type": "line", "color": "#6a6a6a", "strokeWidth": 1.1},
  "encoding": {"x": {"field": "x", "type": "quantitative", "scale": {"domain": [0, 10], "nice": false, "zero": false}},
   "y": {"field": "y", "type": "quantitative", "scale": {"domain": [-7, 7], "nice": false, "zero": false}}}},
 {"data": {"name": "traces"}, "transform": [{"filter": "datum.s == 'T1'"}],
  "mark": {"type": "line", "color": "#3a3a3a", "strokeWidth": 1},
  "encoding": {"x": {"field": "x", "type": "quantitative", "scale": {"domain": [0, 10], "nice": false, "zero": false}},
   "y": {"field": "y", "type": "quantitative", "scale": {"domain": [-7, 7], "nice": false, "zero": false}}}},
 {"data": {"name": "traces"}, "transform": [{"filter": "datum.s == 'T3'"}],
  "mark": {"type": "line", "color": "#111", "strokeWidth": 1.1},
  "encoding": {"x": {"field": "x", "type": "quantitative", "scale": {"domain": [0, 10], "nice": false, "zero": false}},
   "y": {"field": "y", "type": "quantitative", "scale": {"domain": [-7, 7], "nice": false, "zero": false}}}},
 {"data": {"values": [{}]}, "mark": {"type": "rect", "color": "#000"},
  "encoding": {"x": {"datum": -0.42, "scale": {"domain": [0, 10], "nice": false, "zero": false}}, "x2": {"datum": -0.02},
   "y": {"datum": -1.85, "scale": {"domain": [-7, 7], "nice": false, "zero": false}}, "y2": {"datum": -2.1}}},
 {"data": {"name": "labels"}, "transform": [{"filter": "datum.g == 'leg'"}],
  "mark": {"type": "text", "align": "left", "baseline": "middle", "font": "DejaVu Serif", "fontSize": 12, "color": "#111"},
  "encoding": {"x": {"field": "x", "type": "quantitative", "scale": {"domain": [0, 10], "nice": false, "zero": false}},
   "y": {"field": "y", "type": "quantitative", "scale": {"domain": [-7, 7], "nice": false, "zero": false}}, "text": {"field": "t"}}},
 {"data": {"name": "labels"}, "transform": [{"filter": "datum.g == 'title'"}],
  "mark": {"type": "text", "align": "center", "baseline": "middle", "font": "DejaVu Serif", "fontSize": 16.5, "color": "#111"},
  "encoding": {"x": {"field": "x", "type": "quantitative", "scale": {"domain": [0, 10], "nice": false, "zero": false}},
   "y": {"field": "y", "type": "quantitative", "scale": {"domain": [-7, 7], "nice": false, "zero": false}}, "text": {"field": "t"}}},
 {"data": {"name": "labels"}, "transform": [{"filter": "datum.g == 'cur'"}],
  "mark": {"type": "text", "align": "center", "baseline": "middle", "font": "DejaVu Serif", "fontSize": 13, "color": "#111"},
  "encoding": {"x": {"field": "x", "type": "quantitative", "scale": {"domain": [0, 10], "nice": false, "zero": false}},
   "y": {"field": "y", "type": "quantitative", "scale": {"domain": [-7, 7], "nice": false, "zero": false}}, "text": {"field": "t"}}},
 {"data": {"name": "labels"}, "transform": [{"filter": "datum.g == 'pow'"}],
  "mark": {"type": "text", "align": "center", "baseline": "middle", "font": "DejaVu Serif", "fontSize": 13, "color": "#555"},
  "encoding": {"x": {"field": "x", "type": "quantitative", "scale": {"domain": [0, 10], "nice": false, "zero": false}},
   "y": {"field": "y", "type": "quantitative", "scale": {"domain": [-7, 7], "nice": false, "zero": false}}, "text": {"field": "t"}}},
 {"data": {"name": "labels"}, "transform": [{"filter": "datum.g == 'mod'"}],
  "mark": {"type": "text", "align": "center", "baseline": "middle", "font": "DejaVu Serif", "fontSize": 13.5, "color": "#ababab"},
  "encoding": {"x": {"field": "x", "type": "quantitative", "scale": {"domain": [0, 10], "nice": false, "zero": false}},
   "y": {"field": "y", "type": "quantitative", "scale": {"domain": [-7, 7], "nice": false, "zero": false}}, "text": {"field": "t"}}},
 {"data": {"name": "labels"}, "transform": [{"filter": "datum.g == 'vol'"}],
  "mark": {"type": "text", "align": "center", "baseline": "middle", "font": "DejaVu Serif", "fontSize": 13, "color": "#333"},
  "encoding": {"x": {"field": "x", "type": "quantitative", "scale": {"domain": [0, 10], "nice": false, "zero": false}},
   "y": {"field": "y", "type": "quantitative", "scale": {"domain": [-7, 7], "nice": false, "zero": false}}, "text": {"field": "t"}}},
 {"data": {"name": "labels"}, "transform": [{"filter": "datum.g == 'mk'"}],
  "mark": {"type": "text", "align": "right", "baseline": "middle", "font": "DejaVu Sans", "fontSize": 8, "color": "#555"},
  "encoding": {"x": {"field": "x", "type": "quantitative", "scale": {"domain": [0, 10], "nice": false, "zero": false}},
   "y": {"field": "y", "type": "quantitative", "scale": {"domain": [-7, 7], "nice": false, "zero": false}}, "text": {"field": "t"}}},
 {"data": {"name": "labels"}, "transform": [{"filter": "datum.g == 'mkb'"}],
  "mark": {"type": "text", "align": "right", "baseline": "middle", "font": "DejaVu Sans", "fontSize": 8, "color": "#999"},
  "encoding": {"x": {"field": "x", "type": "quantitative", "scale": {"domain": [0, 10], "nice": false, "zero": false}},
   "y": {"field": "y", "type": "quantitative", "scale": {"domain": [-7, 7], "nice": false, "zero": false}}, "text": {"field": "t"}}}
]
}
